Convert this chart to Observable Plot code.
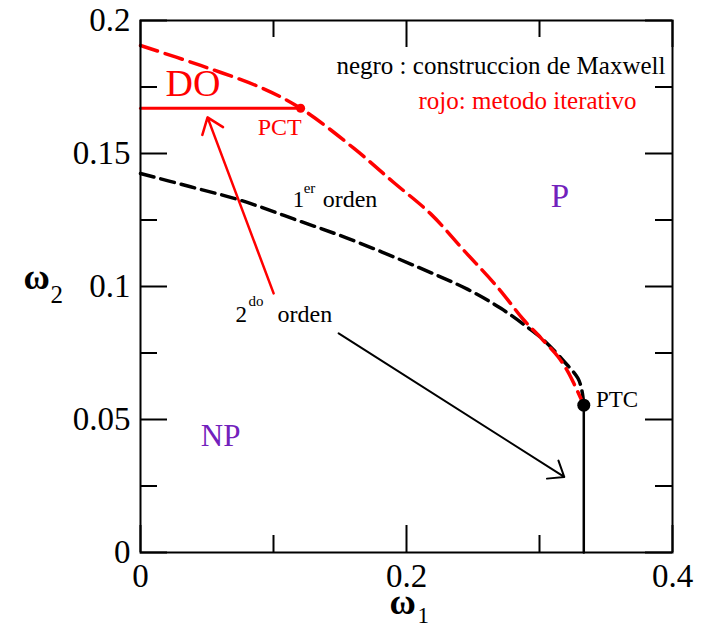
<!DOCTYPE html>
<html><head><meta charset="utf-8">
<script src="https://cdn.jsdelivr.net/npm/d3@7"></script>
<script src="https://cdn.jsdelivr.net/npm/@observablehq/plot@0.6"></script>
<style>
body{margin:0;background:#fff}
svg{display:block}
</style>
</head><body><div id="chart"></div>
<script>
// tick values
const xTicksMajor = [0, 0.2, 0.4];
const xTicksMinor = [0.1, 0.3];
const yTicksMajor = [0, 0.05, 0.1, 0.15, 0.2];
const yTicksMinor = [0.025, 0.075, 0.125, 0.175];

// rojo: metodo iterativo (red dashed boundary)
const iterW1 = [0, 0.0452, 0.0903, 0.1204, 0.1603, 0.1904, 0.2182, 0.2431, 0.2687, 0.2882, 0.3010, 0.3138, 0.3213, 0.3273, 0.3333];
const iterW2 = [0.1906, 0.1831, 0.1748, 0.1670, 0.1520, 0.1391, 0.1273, 0.1136, 0.0996, 0.0874, 0.0807, 0.0737, 0.0680, 0.0620, 0.0554];

// negro: construccion de Maxwell (black dashed boundary)
const maxwellW1 = [0, 0.0376, 0.0753, 0.1151, 0.1558, 0.2085, 0.2461, 0.2709, 0.2912, 0.3033, 0.3183, 0.3289, 0.3319, 0.3333];
const maxwellW2 = [0.1425, 0.1375, 0.1324, 0.1254, 0.1181, 0.1073, 0.0989, 0.0918, 0.0846, 0.0798, 0.0719, 0.0655, 0.0608, 0.0554];

// DO phase line (red solid) and NP/P continuous line (black solid)
const doLineW1 = [0, 0.1204];
const doLineW2 = [0.167, 0.167];
const contLineW1 = [0.3333, 0.3333];
const contLineW2 = [0, 0.0554];

// special points
const pctW1 = [0.1204], pctW2 = [0.167];
const ptcW1 = [0.3333], ptcW2 = [0.0554];

// arrows: [red (2do orden -> DO), black (2do orden -> NP/P line)]
const arrowFromW1 = [0.1001, 0.1490];
const arrowFromW2 = [0.0974, 0.0824];
const arrowToW1 = [0.0504, 0.3186];
const arrowToW2 = [0.1636, 0.0284];

// label anchor points
const labelDO = {text: "DO", w1: 0.0188, w2: 0.1715};
const labelPCT = {text: "PCT", w1: 0.0881, w2: 0.1568};
const labelPTC = {text: "PTC", w1: 0.3424, w2: 0.0546};
const labelP = {text: "P", w1: 0.3153, w2: 0.1298};
const labelNP = {text: "NP", w1: 0.0602, w2: 0.0399};
const label1er = {num: "1", sup: "er", word: "orden", w1: 0.1144, w2: 0.1298};
const label2do = {num: "2", sup: "do", word: "orden", w1: 0.0715, w2: 0.0866};
const legendBlack = "negro : construccion de Maxwell";
const legendRed = "rojo: metodo iterativo";

const zip = (a, b) => a.map((v, i) => ({x: v, y: b[i]}));
const FONT = "Liberation Serif";
const W = 701, H = 627, mT = 20, mB = 75, mL = 140, mR = 29;
const plotH = H - mT - mB, plotW = W - mL - mR;
const purple = "#7221bc";

const txt = (lab, opts) => Plot.text([lab], {x: "w1", y: "w2", text: "text", lineAnchor: "bottom", fontFamily: FONT, ...opts});

const chart = Plot.plot({
  width: W, height: H,
  marginTop: mT, marginBottom: mB, marginLeft: mL, marginRight: mR,
  style: {fontFamily: FONT, background: "#fff", color: "#000"},
  x: {domain: [0, 0.4], axis: null},
  y: {domain: [0, 0.2], axis: null},
  marks: [
    // curves
    Plot.line(zip(maxwellW1, maxwellW2), {x: "x", y: "y", stroke: "#000", strokeWidth: 3.5, strokeDasharray: "14,7", curve: "catmull-rom"}),
    Plot.line(zip(iterW1, iterW2), {x: "x", y: "y", stroke: "#ff0000", strokeWidth: 3.5, strokeDasharray: "18,8", curve: "catmull-rom"}),
    Plot.line(zip(doLineW1, doLineW2), {x: "x", y: "y", stroke: "#ff0000", strokeWidth: 3}),
    Plot.line(zip(contLineW1, contLineW2), {x: "x", y: "y", stroke: "#000", strokeWidth: 2.5}),
    // arrows
    Plot.arrow([0], {x1: i => arrowFromW1[i], y1: i => arrowFromW2[i], x2: i => arrowToW1[i], y2: i => arrowToW2[i], stroke: "#ff0000", strokeWidth: 2.5, headLength: 11, headAngle: 74}),
    Plot.arrow([1], {x1: i => arrowFromW1[i], y1: i => arrowFromW2[i], x2: i => arrowToW1[i], y2: i => arrowToW2[i], stroke: "#000", strokeWidth: 2, headLength: 13, headAngle: 76}),
    // points
    Plot.dot(zip(pctW1, pctW2), {x: "x", y: "y", r: 4.5, fill: "#ff0000"}),
    Plot.dot(zip(ptcW1, ptcW2), {x: "x", y: "y", r: 6.5, fill: "#000"}),
    // labels
    txt(labelDO, {fill: "#ff0000", fontSize: 38, textAnchor: "start"}),
    txt(labelPCT, {fill: "#ff0000", fontSize: 24, textAnchor: "start"}),
    txt(labelPTC, {fill: "#000", fontSize: 23, textAnchor: "start"}),
    txt(labelP, {fill: purple, fontSize: 33, textAnchor: "middle"}),
    txt(labelNP, {fill: purple, fontSize: 31, textAnchor: "middle"}),
    Plot.text([label1er], {x: "w1", y: "w2", text: "num", lineAnchor: "bottom", textAnchor: "start", fontSize: 23, fontFamily: FONT}),
    Plot.text([label1er], {x: "w1", y: "w2", text: "sup", lineAnchor: "bottom", textAnchor: "start", fontSize: 15, dx: 11, dy: -14, fontFamily: FONT}),
    Plot.text([label1er], {x: "w1", y: "w2", text: "word", lineAnchor: "bottom", textAnchor: "start", fontSize: 24, dx: 30, fontFamily: FONT}),
    Plot.text([label2do], {x: "w1", y: "w2", text: "num", lineAnchor: "bottom", textAnchor: "start", fontSize: 23, fontFamily: FONT}),
    Plot.text([label2do], {x: "w1", y: "w2", text: "sup", lineAnchor: "bottom", textAnchor: "start", fontSize: 15, dx: 13, dy: -16, fontFamily: FONT}),
    Plot.text([label2do], {x: "w1", y: "w2", text: "word", lineAnchor: "bottom", textAnchor: "start", fontSize: 24, dx: 42, fontFamily: FONT}),
    // legend texts
    Plot.text([legendBlack], {frameAnchor: "top-right", textAnchor: "end", lineAnchor: "bottom", dx: -7, dy: 53, fontSize: 25, fill: "#000", fontFamily: FONT}),
    Plot.text([legendRed], {frameAnchor: "top-left", textAnchor: "start", lineAnchor: "bottom", dx: 278, dy: 88, fontSize: 25, fill: "#ff0000", fontFamily: FONT}),
    // inward ticks
    Plot.tickX(xTicksMajor, {x: d => d, insetTop: plotH - 27, stroke: "#000", strokeWidth: 2}),
    Plot.tickX(xTicksMajor, {x: d => d, insetBottom: plotH - 27, stroke: "#000", strokeWidth: 2}),
    Plot.tickX(xTicksMinor, {x: d => d, insetTop: plotH - 17, stroke: "#000", strokeWidth: 2}),
    Plot.tickX(xTicksMinor, {x: d => d, insetBottom: plotH - 17, stroke: "#000", strokeWidth: 2}),
    Plot.tickY(yTicksMajor, {y: d => d, insetRight: plotW - 27, stroke: "#000", strokeWidth: 2}),
    Plot.tickY(yTicksMajor, {y: d => d, insetLeft: plotW - 27, stroke: "#000", strokeWidth: 2}),
    Plot.tickY(yTicksMinor, {y: d => d, insetRight: plotW - 17, stroke: "#000", strokeWidth: 2}),
    Plot.tickY(yTicksMinor, {y: d => d, insetLeft: plotW - 17, stroke: "#000", strokeWidth: 2}),
    Plot.frame({stroke: "#000", strokeWidth: 2}),
    // tick labels
    Plot.axisX(xTicksMajor, {tickSize: 0, tickPadding: 11, fontSize: 33, tickFormat: d => String(d), label: null, fontFamily: FONT, fontVariant: "normal"}),
    Plot.axisY(yTicksMajor, {tickSize: 0, tickPadding: 10, fontSize: 33, tickFormat: d => String(d), label: null, fontFamily: FONT, fontVariant: "normal"}),
    // axis titles
    Plot.text(["ω"], {frameAnchor: "bottom", textAnchor: "start", lineAnchor: "bottom", dx: -17, dy: 61, fontSize: 36, fontWeight: "bold", fontFamily: FONT}),
    Plot.text(["1"], {frameAnchor: "bottom", textAnchor: "start", lineAnchor: "bottom", dx: 11, dy: 70, fontSize: 23, fontFamily: FONT}),
    Plot.text(["ω"], {frameAnchor: "left", textAnchor: "start", lineAnchor: "bottom", dx: -117, dy: 2, fontSize: 36, fontWeight: "bold", fontFamily: FONT}),
    Plot.text(["2"], {frameAnchor: "left", textAnchor: "start", lineAnchor: "bottom", dx: -90, dy: 16, fontSize: 25, fontFamily: FONT})
  ]
});
document.getElementById("chart").appendChild(chart);
</script>
</body></html>
